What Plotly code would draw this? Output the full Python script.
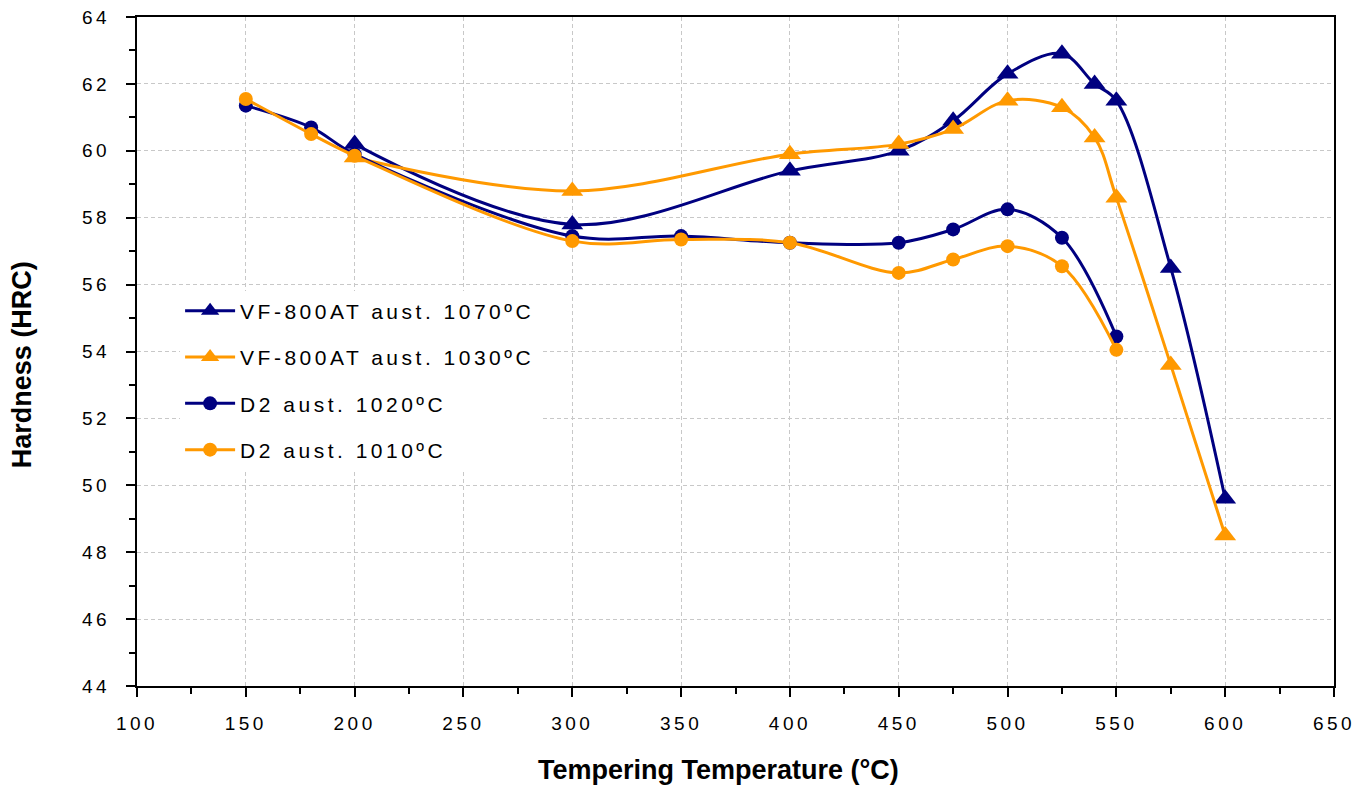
import plotly.graph_objects as go

# ---- data ----
vf_temps = [200, 300, 400, 450, 475, 500, 525, 540, 550, 575, 600]
vf_1070 = [60.2, 57.8, 59.4, 60.0, 60.9, 62.3, 62.9, 62.0, 61.5, 56.5, 49.6]
vf_1030 = [59.8, 58.8, 59.9, 60.2, 60.65, 61.5, 61.3, 60.4, 58.6, 53.6, 48.5]

d2_temps = [150, 180, 200, 300, 350, 400, 450, 475, 500, 525, 550]
d2_1020 = [61.35, 60.7, 59.9, 57.45, 57.45, 57.25, 57.25, 57.65, 58.25, 57.4, 54.45]
d2_1010 = [61.55, 60.5, 59.85, 57.3, 57.35, 57.25, 56.35, 56.75, 57.15, 56.55, 54.05]

names = ["VF-800AT aust. 1070ºC", "VF-800AT aust. 1030ºC",
         "D2 aust. 1020ºC", "D2 aust. 1010ºC"]

x_ticks = [100, 150, 200, 250, 300, 350, 400, 450, 500, 550, 600, 650]
y_ticks = [44, 46, 48, 50, 52, 54, 56, 58, 60, 62, 64]

x_title = "Tempering Temperature (°C)"
y_title = "Hardness (HRC)"

NAVY = "#000080"
ORANGE = "#FF9900"
FONT = "Liberation Sans, Arial, sans-serif"


def spaced(t, px):
    return f'<span style="letter-spacing:{px}px">{t}</span>'


fig = go.Figure()

series = [
    (vf_temps, vf_1070, names[0], NAVY, "triangle-up", 19),
    (vf_temps, vf_1030, names[1], ORANGE, "triangle-up", 19),
    (d2_temps, d2_1020, names[2], NAVY, "circle", 14),
    (d2_temps, d2_1010, names[3], ORANGE, "circle", 14),
]
for i, (xs, ys, nm, col, sym, sz) in enumerate(series):
    fig.add_trace(go.Scatter(
        x=xs, y=ys, name=spaced(nm, 3.5), mode="lines+markers",
        line=dict(color=col, width=3, shape="spline", smoothing=1),
        marker=dict(color=col, symbol=sym, size=sz, line=dict(width=0)),
        legendgroup=f"g{i}",
        hovertext=nm,
    ))

fig.update_layout(
    width=1359, height=785,
    margin=dict(l=137, r=25, t=17, b=99, autoexpand=False),
    paper_bgcolor="white", plot_bgcolor="white",
    font=dict(family=FONT, color="black", size=19),
    showlegend=True,
    legend=dict(
        x=0.036, y=0.591, xanchor="left", yanchor="top",
        bgcolor="white", borderwidth=0,
        font=dict(family=FONT, size=21, color="black"),
        tracegroupgap=16,
        itemwidth=50,
    ),
    xaxis=dict(
        range=[100, 650],
        tickmode="array", tickvals=x_ticks,
        ticktext=[spaced(v, 3.5) for v in x_ticks],
        showline=True, linecolor="black", linewidth=2, mirror=True,
        ticks="outside", ticklen=9, tickwidth=2, tickcolor="black",
        ticklabelstandoff=10,
        showgrid=True, gridcolor="#c8c8c8", gridwidth=1, griddash="4px,3px",
        zeroline=False, automargin=False,
        tickfont=dict(size=19),
        minor=dict(dtick=25, tick0=100, ticks="outside", ticklen=6,
                   tickwidth=1.5, tickcolor="black", showgrid=False),
    ),
    yaxis=dict(
        range=[44, 64],
        tickmode="array", tickvals=y_ticks,
        ticktext=[spaced(v, 3.5) for v in y_ticks],
        showline=True, linecolor="black", linewidth=2, mirror=True,
        ticks="outside", ticklen=9, tickwidth=2, tickcolor="black",
        ticklabelstandoff=12,
        showgrid=True, gridcolor="#c8c8c8", gridwidth=1, griddash="4px,3px",
        zeroline=False, automargin=False,
        tickfont=dict(size=19),
        minor=dict(dtick=1, tick0=44, ticks="outside", ticklen=6,
                   tickwidth=1.5, tickcolor="black", showgrid=False),
    ),
    annotations=[
        dict(text=f"<b>{x_title}</b>", xref="paper", yref="paper",
             x=0.486, y=-0.1256, xanchor="center", yanchor="middle",
             showarrow=False, font=dict(size=27, family=FONT, color="black")),
        dict(text=f"<b>{y_title}</b>", xref="paper", yref="paper",
             x=-0.0961, y=0.481, xanchor="center", yanchor="middle",
             textangle=-90, showarrow=False,
             font=dict(size=27, family=FONT, color="black")),
    ],
)

fig.write_html(
    "out.html",
    config={"displayModeBar": False},
    post_script="document.body.style.margin='0';document.body.style.overflow='hidden';",
)
